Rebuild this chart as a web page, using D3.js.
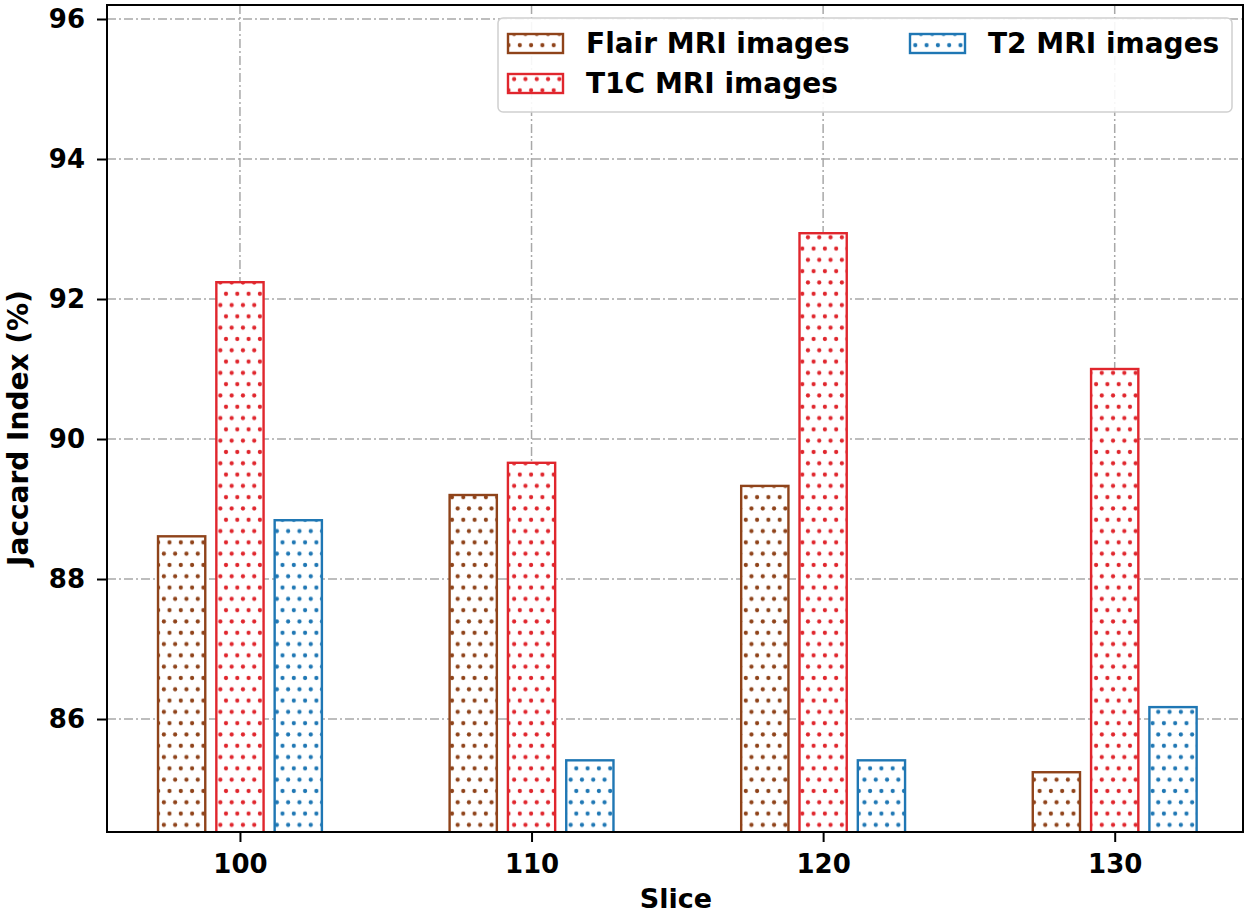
<!DOCTYPE html>
<html><head><meta charset="utf-8">
<script src="https://cdn.jsdelivr.net/npm/d3@7"></script>
<style>body{margin:0;background:#fff}svg{display:block}text{font-family:"DejaVu Sans",sans-serif;font-weight:bold}</style>
</head><body>
<svg id="c" width="1255" height="917"></svg>
<script>
const categories = ["100","110","120","130"];
const seriesNames = ["Flair MRI images","T1C MRI images","T2 MRI images"];
const flair = [88.61, 89.20, 89.33, 85.24];
const t1c = [92.24, 89.66, 92.94, 91.00];
const t2 = [88.84, 85.41, 85.41, 86.17];
const yTicks = [86, 88, 90, 92, 94, 96];
const colors = ["#8f431a", "#e0262d", "#1f77b4"];

const svg = d3.select("#c");
const L = 107, R = 1243, T = 5, B = 832;
const y = d3.scaleLinear().domain([84.386, 96.2]).range([B, T]);
const x = d3.scaleLinear().domain([-0.456, 3.44]).range([L, R]);
const offsets = [-0.2, 0, 0.2];
const barW = 0.162;

const defs = svg.append("defs");
colors.forEach((c, i) => {
  const p = defs.append("pattern").attr("id", "p" + i).attr("patternUnits", "userSpaceOnUse")
    .attr("width", 11.3).attr("height", 22.6);
  p.append("rect").attr("width", 11.3).attr("height", 22.6).attr("fill", "#fff");
  [[0, 0], [11.3, 0], [0, 22.6], [11.3, 22.6], [5.65, 11.3]].forEach(([cx, cy]) =>
    p.append("circle").attr("cx", cx).attr("cy", cy).attr("r", 2.1).attr("fill", c));
});
defs.append("clipPath").attr("id", "clip").append("rect").attr("x", L).attr("y", T).attr("width", R - L).attr("height", B - T);

// grid
const g = svg.append("g").attr("stroke", "#a8a8a8").attr("stroke-width", 1.5).attr("stroke-dasharray", "9,3,2,3");
yTicks.forEach(v => g.append("line").attr("x1", L).attr("x2", R).attr("y1", y(v)).attr("y2", y(v)));
categories.forEach((c, i) => g.append("line").attr("x1", x(i)).attr("x2", x(i)).attr("y1", T).attr("y2", B));

// bars
const data = [flair, t1c, t2];
const bars = svg.append("g").attr("clip-path", "url(#clip)");
data.forEach((vals, s) => {
  bars.selectAll(null).data(vals).enter().append("rect")
    .attr("x", (d, i) => x(i + offsets[s] - barW / 2))
    .attr("width", (d, i) => x(i + offsets[s] + barW / 2) - x(i + offsets[s] - barW / 2))
    .attr("y", d => y(d))
    .attr("height", d => B + 5 - y(d))
    .attr("fill", "url(#p" + s + ")")
    .attr("stroke", colors[s]).attr("stroke-width", 2.4);
});

// frame
svg.append("rect").attr("x", L).attr("y", T).attr("width", R - L).attr("height", B - T)
  .attr("fill", "none").attr("stroke", "#000").attr("stroke-width", 2);

// y axis
const ya = svg.append("g").attr("transform", `translate(${L},0)`)
  .call(d3.axisLeft(y).tickValues(yTicks).tickSize(10).tickPadding(12).tickFormat(d3.format("d")));
ya.select(".domain").remove();
ya.selectAll("line").attr("stroke", "#000").attr("stroke-width", 2);
ya.selectAll("text").attr("font-size", 26).attr("font-family", "DejaVu Sans").attr("font-weight", "bold").attr("fill", "#000");

// x axis
const xa = svg.append("g").attr("transform", `translate(0,${B})`)
  .call(d3.axisBottom(x).tickValues([0, 1, 2, 3]).tickSize(10).tickPadding(13).tickFormat(i => categories[i]));
xa.select(".domain").remove();
xa.selectAll("line").attr("stroke", "#000").attr("stroke-width", 2);
xa.selectAll("text").attr("font-size", 26).attr("font-family", "DejaVu Sans").attr("font-weight", "bold").attr("fill", "#000");

svg.append("text").attr("x", 676).attr("y", 908).attr("text-anchor", "middle").attr("font-size", 27).text("Slice");
svg.append("text").attr("transform", "translate(28,428) rotate(-90)").attr("text-anchor", "middle").attr("font-size", 28).text("Jaccard Index (%)");

// legend
const lg = svg.append("g");
lg.append("rect").attr("x", 498).attr("y", 18).attr("width", 734).attr("height", 94).attr("rx", 5)
  .attr("fill", "#fff").attr("fill-opacity", 0.9).attr("stroke", "#d0d0d0").attr("stroke-width", 1.5);
const pos = [[508, 34], [508, 74], [910, 34]];
seriesNames.forEach((n, s) => {
  const [px, py] = pos[s];
  lg.append("rect").attr("x", px).attr("y", py).attr("width", 55).attr("height", 19)
    .attr("fill", "url(#p" + s + ")").attr("stroke", colors[s]).attr("stroke-width", 2.4);
  lg.append("text").attr("x", px + 78).attr("y", py + 19).attr("font-size", 28).text(n);
});
</script>
</body></html>
